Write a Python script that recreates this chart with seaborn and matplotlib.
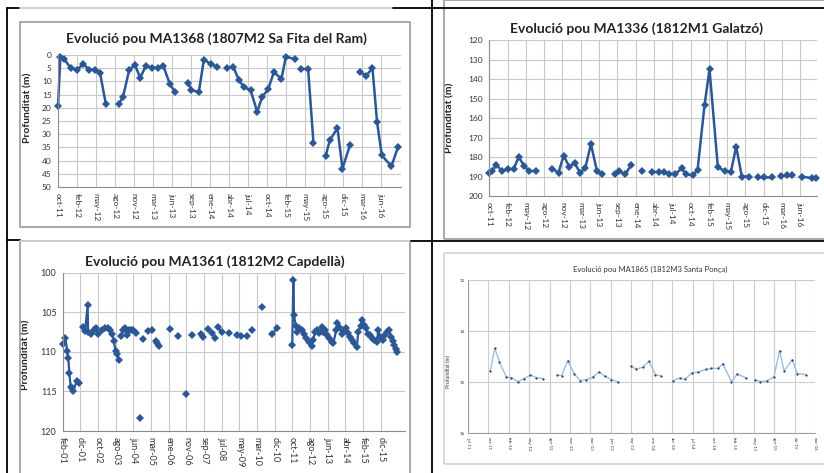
import numpy as np
import pandas as pd
import matplotlib
matplotlib.use("Agg")
import matplotlib.pyplot as plt
from matplotlib.lines import Line2D
from matplotlib.patches import Rectangle
import seaborn as sns

W, H = 824, 473

# ---- MA1368 (1807M2 Sa Fita del Ram) ----
years_1368 = [2011.815, 2011.849, 2011.906, 2011.997, 2012.089, 2012.180, 2012.266, 2012.353, 2012.420, 2012.506,
              2012.694, 2012.751, 2012.843, 2012.924, 2013.001, 2013.083, 2013.169, 2013.256, 2013.332, 2013.424, 2013.501,
              2013.693, 2013.736, 2013.846, 2013.918, 2014.014, 2014.101,
              2014.245, 2014.341, 2014.423, 2014.499, 2014.591, 2014.687, 2014.759, 2014.845, 2014.927, 2015.037, 2015.100, 2015.229,
              2015.325, 2015.421, 2015.498,
              2015.676, 2015.733, 2015.844, 2015.916, 2016.026,
              2016.175, 2016.262, 2016.348, 2016.415, 2016.483, 2016.622, 2016.718]
depth_1368 = [19.4, 0.9, 1.5, 5.0, 5.5, 3.5, 5.5, 5.7, 6.7, 18.7,
              18.4, 16.0, 5.5, 3.8, 8.6, 4.0, 4.8, 4.8, 4.0, 10.8, 14.0,
              10.5, 13.4, 13.9, 1.8, 3.3, 4.4,
              5.0, 4.4, 9.5, 12.3, 13.3, 21.5, 15.8, 13.0, 6.5, 9.0, 0.6, 1.6,
              5.3, 5.3, 33.3,
              38.1, 32.3, 27.7, 43.0, 34.0,
              6.6, 7.8, 4.9, 25.4, 38.0, 42.2, 34.7]
gaps_1368 = [10, 21, 27, 39, 42, 47]

# ---- MA1336 (1812M1 Galatzó) ----
years_1336 = [2011.815, 2011.855, 2011.920, 2012.005, 2012.089, 2012.179, 2012.254, 2012.339, 2012.413, 2012.513,
              2012.753, 2012.852, 2012.927, 2013.012, 2013.092, 2013.176, 2013.251, 2013.336, 2013.426, 2013.501,
              2013.695, 2013.750, 2013.850, 2013.934,
              2014.099,
              2014.249, 2014.348, 2014.423, 2014.498, 2014.598, 2014.698, 2014.757, 2014.862, 2014.932, 2015.037,
              2015.111, 2015.236, 2015.346, 2015.431, 2015.510, 2015.595, 2015.695,
              2015.844, 2015.934, 2016.044,
              2016.184, 2016.268, 2016.343,
              2016.493, 2016.642, 2016.702]
depth_1336 = [188.4, 187.2, 184.0, 187.2, 186.2, 186.2, 180.0, 184.6, 187.2, 187.2,
              186.0, 188.0, 179.3, 185.0, 183.2, 188.0, 185.8, 173.3, 187.2, 188.9,
              188.9, 187.2, 188.9, 184.3,
              187.0,
              187.7, 187.7, 187.7, 188.7, 188.7, 185.8, 188.9, 189.4, 186.7, 153.3,
              135.0, 185.3, 187.2, 187.7, 174.7, 190.0, 190.0,
              190.0, 190.0, 190.0,
              189.7, 189.4, 189.4,
              190.0, 190.9, 190.9]
gaps_1336 = [10, 20, 24, 25, 42, 45, 48]

# ---- MA1361 (1812M2 Capdellà) ----
years_1361 = [2001.11, 2001.23, 2001.32, 2001.37, 2001.42, 2001.48, 2001.54, 2001.60, 2001.76, 2001.87,
              2002.05, 2002.15, 2002.27, 2002.29, 2002.43, 2002.58, 2002.67, 2002.77, 2002.92, 2003.08,
              2003.22, 2003.32, 2003.42, 2003.48, 2003.57, 2003.63, 2003.71,
              2003.82, 2003.93, 2004.00, 2004.08, 2004.19, 2004.28, 2004.39, 2004.50,
              2004.70, 2004.86, 2005.06, 2005.25, 2005.43, 2005.51, 2005.60,
              2006.10, 2006.46, 2006.83, 2007.11, 2007.54, 2007.65, 2007.88, 2008.04, 2008.19,
              2008.34, 2008.50, 2008.86, 2009.20, 2009.40, 2009.66, 2009.90, 2010.36, 2010.83, 2011.09,
              2011.78, 2011.83, 2011.86, 2011.94, 2012.02, 2012.11, 2012.22, 2012.33, 2012.42, 2012.57,
              2012.68, 2012.75, 2012.84, 2012.94, 2013.04, 2013.15, 2013.23, 2013.30, 2013.41, 2013.50,
              2013.62, 2013.69, 2013.82, 2013.88, 2013.97, 2014.08, 2014.19, 2014.28, 2014.36, 2014.47,
              2014.55, 2014.65, 2014.78, 2014.85, 2014.96, 2015.04, 2015.12, 2015.21, 2015.29, 2015.40,
              2015.47, 2015.58, 2015.71, 2015.78, 2015.86, 2015.99, 2016.09, 2016.20, 2016.28, 2016.37,
              2016.45, 2016.51, 2016.59, 2016.66]
depth_1361 = [109.0, 108.2, 109.9, 110.8, 112.7, 114.4, 114.6, 114.9, 113.7, 113.9,
              106.8, 107.4, 104.1, 107.5, 107.8, 107.3, 107.0, 107.8, 107.3, 107.0,
              107.0, 107.3, 107.7, 108.6, 109.9, 110.3, 111.0,
              108.0, 107.3, 107.0, 107.9, 107.3, 107.3, 107.3, 107.6,
              118.3, 108.4, 107.4, 107.3, 108.6, 108.9, 109.2,
              107.1, 108.0, 115.3, 107.9, 107.8, 108.1, 107.1, 107.6, 108.2,
              106.9, 107.5, 107.6, 107.9, 108.0, 108.0, 107.3, 104.3, 107.7, 107.0,
              109.1, 100.9, 105.4, 106.7, 107.5, 107.0, 107.3, 107.7, 108.3, 108.7,
              109.2, 108.5, 107.5, 107.3, 107.6, 106.9, 107.5, 107.3, 107.9, 108.3,
              108.7, 108.9, 107.3, 106.4, 106.8, 107.8, 107.3, 107.0, 107.6, 108.1,
              108.5, 108.9, 109.4, 107.5, 106.7, 106.0, 106.6, 107.0, 107.7, 107.9,
              108.3, 108.5, 108.7, 107.3, 108.1, 108.5, 107.9, 107.5, 107.3, 108.1,
              108.6, 109.1, 109.6, 110.0]
gaps_1361 = [10, 27, 35, 36, 37, 39, 42, 43, 44, 45, 46, 48, 51, 53, 54, 56, 57, 58, 59, 61]

# ---- MA1865 (1812M3 Santa Ponça) ----
years_1865 = [2011.841, 2011.899, 2011.962, 2012.056, 2012.123, 2012.212, 2012.293, 2012.378, 2012.458, 2012.548,
              2012.740, 2012.798, 2012.879, 2012.968, 2013.049, 2013.129, 2013.214, 2013.295, 2013.375, 2013.465, 2013.550,
              2013.729, 2013.796, 2013.885, 2013.966, 2014.055, 2014.131,
              2014.293, 2014.378, 2014.458, 2014.539, 2014.628, 2014.727, 2014.807, 2014.892, 2014.959, 2015.075, 2015.152, 2015.272,
              2015.389, 2015.456, 2015.554, 2015.644, 2015.720, 2015.782, 2015.890, 2015.957, 2016.069]
depth_1865 = [14.78, 14.33, 14.60, 14.90, 14.91, 14.99, 14.93, 14.86, 14.91, 14.93,
              14.86, 14.87, 14.58, 14.84, 14.97, 14.95, 14.90, 14.80, 14.88, 14.95, 14.99,
              14.69, 14.74, 14.71, 14.59, 14.85, 14.88,
              14.97, 14.92, 14.94, 14.82, 14.80, 14.75, 14.73, 14.73, 14.64, 14.99, 14.84, 14.92,
              14.95, 14.99, 14.97, 14.90, 14.38, 14.78, 14.56, 14.83, 14.85]
gaps_1865 = [10, 21, 27, 39]

labels_2011 = ["oct-11", "feb-12", "may-12", "ago-12", "nov-12", "mar-13", "jun-13", "sep-13", "ene-14",
               "abr-14", "jul-14", "oct-14", "feb-15", "may-15", "ago-15", "dic-15", "mar-16", "jun-16"]
labels_2001 = ["feb-01", "dic-01", "oct-02", "ago-03", "jun-04", "mar-05", "ene-06", "nov-06", "sep-07", "jul-08",
               "may-09", "mar-10", "dic-10", "oct-11", "ago-12", "jun-13", "abr-14", "feb-15", "dic-15"]
labels_1865 = ["jul-11"] + labels_2011[:-1]

BLUE = "#2b5797"


def make_df(years, depth, gaps):
    seg = np.searchsorted(gaps, np.arange(len(years)), side="right")
    return pd.DataFrame({"year": years, "depth": depth, "seg": seg})


def add_axes(fig, x0, y0, x1, y1):
    return fig.add_axes([x0 / W, 1 - y1 / H, (x1 - x0) / W, (y1 - y0) / H])


def line(fig, xs, ys, color="black", lw=1.3):
    fig.add_artist(Line2D([x / W for x in xs], [1 - y / H for y in ys],
                          transform=fig.transFigure, color=color, lw=lw))


def box(fig, x0, y0, x1, y1, color):
    fig.add_artist(Rectangle((x0 / W, 1 - y1 / H), (x1 - x0) / W, (y1 - y0) / H,
                             transform=fig.transFigure, fill=False, ec=color, lw=1.2))


def style_axes(ax, ticks, labels, xlim, ylim, yticks, fs, grid_c, spine_c):
    ax.set_xlim(*xlim)
    ax.set_ylim(*ylim)
    ax.set_xticks(ticks)
    ax.set_xticklabels(labels, rotation=-90, fontsize=fs, color="#333333")
    ax.set_yticks(yticks)
    ax.set_yticklabels([str(v) for v in yticks], fontsize=fs, color="#333333")
    ax.grid(True, color=grid_c, lw=0.8)
    ax.set_axisbelow(True)
    for s in ["top", "right"]:
        ax.spines[s].set_visible(False)
    for s in ["left", "bottom"]:
        ax.spines[s].set_color(spine_c)
        ax.spines[s].set_linewidth(0.8)
    ax.tick_params(axis="both", length=2.5, width=0.7, color=spine_c, pad=2)
    ax.set_xlabel("")
    ax.set_facecolor("white")
    for ln in ax.lines:
        ln.set_clip_on(False)


sns.set_style("white")
plt.rcParams["font.family"] = ["Lato", "DejaVu Sans"]

fig = plt.figure(figsize=(W / 100, H / 100), dpi=100)
fig.patch.set_facecolor("white")

# table lines and chart boxes
box(fig, 20, 22, 410, 227, "#9a9a9a")
box(fig, 20, 241, 410, 490, "#9a9a9a")
box(fig, 444, 0, 830, 239, "#9a9a9a")
box(fig, 444, 253, 830, 464, "#d4d4d4")
line(fig, [7, 20], [8, 8])
line(fig, [20, 393], [8, 8], color="#cfcfcf")
line(fig, [393, 824], [8, 8])
line(fig, [7, 20], [240, 240])
line(fig, [20, 411], [241, 241], color="#cfcfcf")
line(fig, [411, 824], [241, 241])
line(fig, [7, 7], [8, 473])
line(fig, [432.5, 432.5], [0, 473])

step100 = 100 / 365.25
step300 = 300 / 365.25

# panel 1
ax1 = add_axes(fig, 58, 55, 401, 187)
df1 = make_df(years_1368, depth_1368, gaps_1368)
sns.lineplot(data=df1, x="year", y="depth", units="seg", estimator=None, sort=False, ax=ax1,
             color=BLUE, lw=1.8, marker="D", markersize=4.5, markeredgewidth=0, legend=False)
style_axes(ax1, years_1368[0] + step100 * np.arange(len(labels_2011)), labels_2011,
           (2011.815, 2016.76), (50, 0), list(range(0, 55, 5)), 6, "#c8c8c8", "#8c8c8c")
ax1.set_ylabel("Profunditat (m)", fontsize=7.5, fontweight="bold", color="#222222")
ax1.yaxis.set_label_coords((32 - 58) / 343, 0.6)
fig.text(216 / W, 1 - 39 / H, "Evolució pou MA1368 (1807M2 Sa Fita del Ram)",
         ha="center", va="center", fontsize=10, fontweight="bold", color="#222222")

# panel 2
ax2 = add_axes(fig, 489.3, 40, 817, 196)
df2 = make_df(years_1336, depth_1336, gaps_1336)
sns.lineplot(data=df2, x="year", y="depth", units="seg", estimator=None, sort=False, ax=ax2,
             color=BLUE, lw=1.8, marker="D", markersize=4.5, markeredgewidth=0, legend=False)
style_axes(ax2, years_1336[0] + step100 * np.arange(len(labels_2011)), labels_2011,
           (2011.815, 2016.72), (200, 120), list(range(120, 210, 10)), 6, "#c8c8c8", "#8c8c8c")
ax2.set_ylabel("Profunditat (m)", fontsize=7.5, fontweight="bold", color="#222222")
ax2.yaxis.set_label_coords((454 - 489.3) / 327.7, 0.5)
fig.text(637 / W, 1 - 29 / H, "Evolució pou MA1336 (1812M1 Galatzó)",
         ha="center", va="center", fontsize=10, fontweight="bold", color="#222222")

# panel 3
ax3 = add_axes(fig, 62.7, 272.7, 405, 431)
df3 = make_df(years_1361, depth_1361, gaps_1361)
sns.lineplot(data=df3, x="year", y="depth", units="seg", estimator=None, sort=False, ax=ax3,
             color=BLUE, lw=1.6, marker="D", markersize=4.5, markeredgewidth=0, legend=False)
style_axes(ax3, years_1361[0] + step300 * np.arange(len(labels_2001)), labels_2001,
           (2001.11, 2017.02), (120, 100), [100, 105, 110, 115, 120], 6.5, "#c8c8c8", "#8c8c8c")
ax3.set_ylabel("Profunditat (m)", fontsize=7.5, fontweight="bold", color="#222222")
ax3.yaxis.set_label_coords((30 - 62.7) / 342.3, 0.48)
fig.text(215 / W, 1 - 262 / H, "Evolució pou MA1361 (1812M2 Capdellà)",
         ha="center", va="center", fontsize=10, fontweight="bold", color="#222222")

# panel 4
ax4 = add_axes(fig, 468, 280, 815, 433.3)
df4 = make_df(years_1865, depth_1865, gaps_1865)
sns.lineplot(data=df4, x="year", y="depth", units="seg", estimator=None, sort=False, ax=ax4,
             color="#9dbfe0", lw=1.0, marker="o", markersize=1.6, markeredgewidth=0,
             markerfacecolor="#1f3f6e", legend=False)
style_axes(ax4, 2011.541 + step100 * np.arange(len(labels_1865)), labels_1865,
           (2011.541, 2016.195), (16, 13), [13, 14, 15, 16], 3.2, "#cccccc", "#a0a0a0")
ax4.tick_params(axis="both", length=1.5, pad=1)
ax4.set_ylabel("Profunditat (m)", fontsize=3.5, color="#333333")
ax4.yaxis.set_label_coords((451 - 468) / 347, 0.4)
fig.text(650 / W, 1 - 269 / H, "Evolució pou MA1865 (1812M3 Santa Ponça)",
         ha="center", va="center", fontsize=5.5, color="#333333")

fig.savefig("out.png", dpi=100)
